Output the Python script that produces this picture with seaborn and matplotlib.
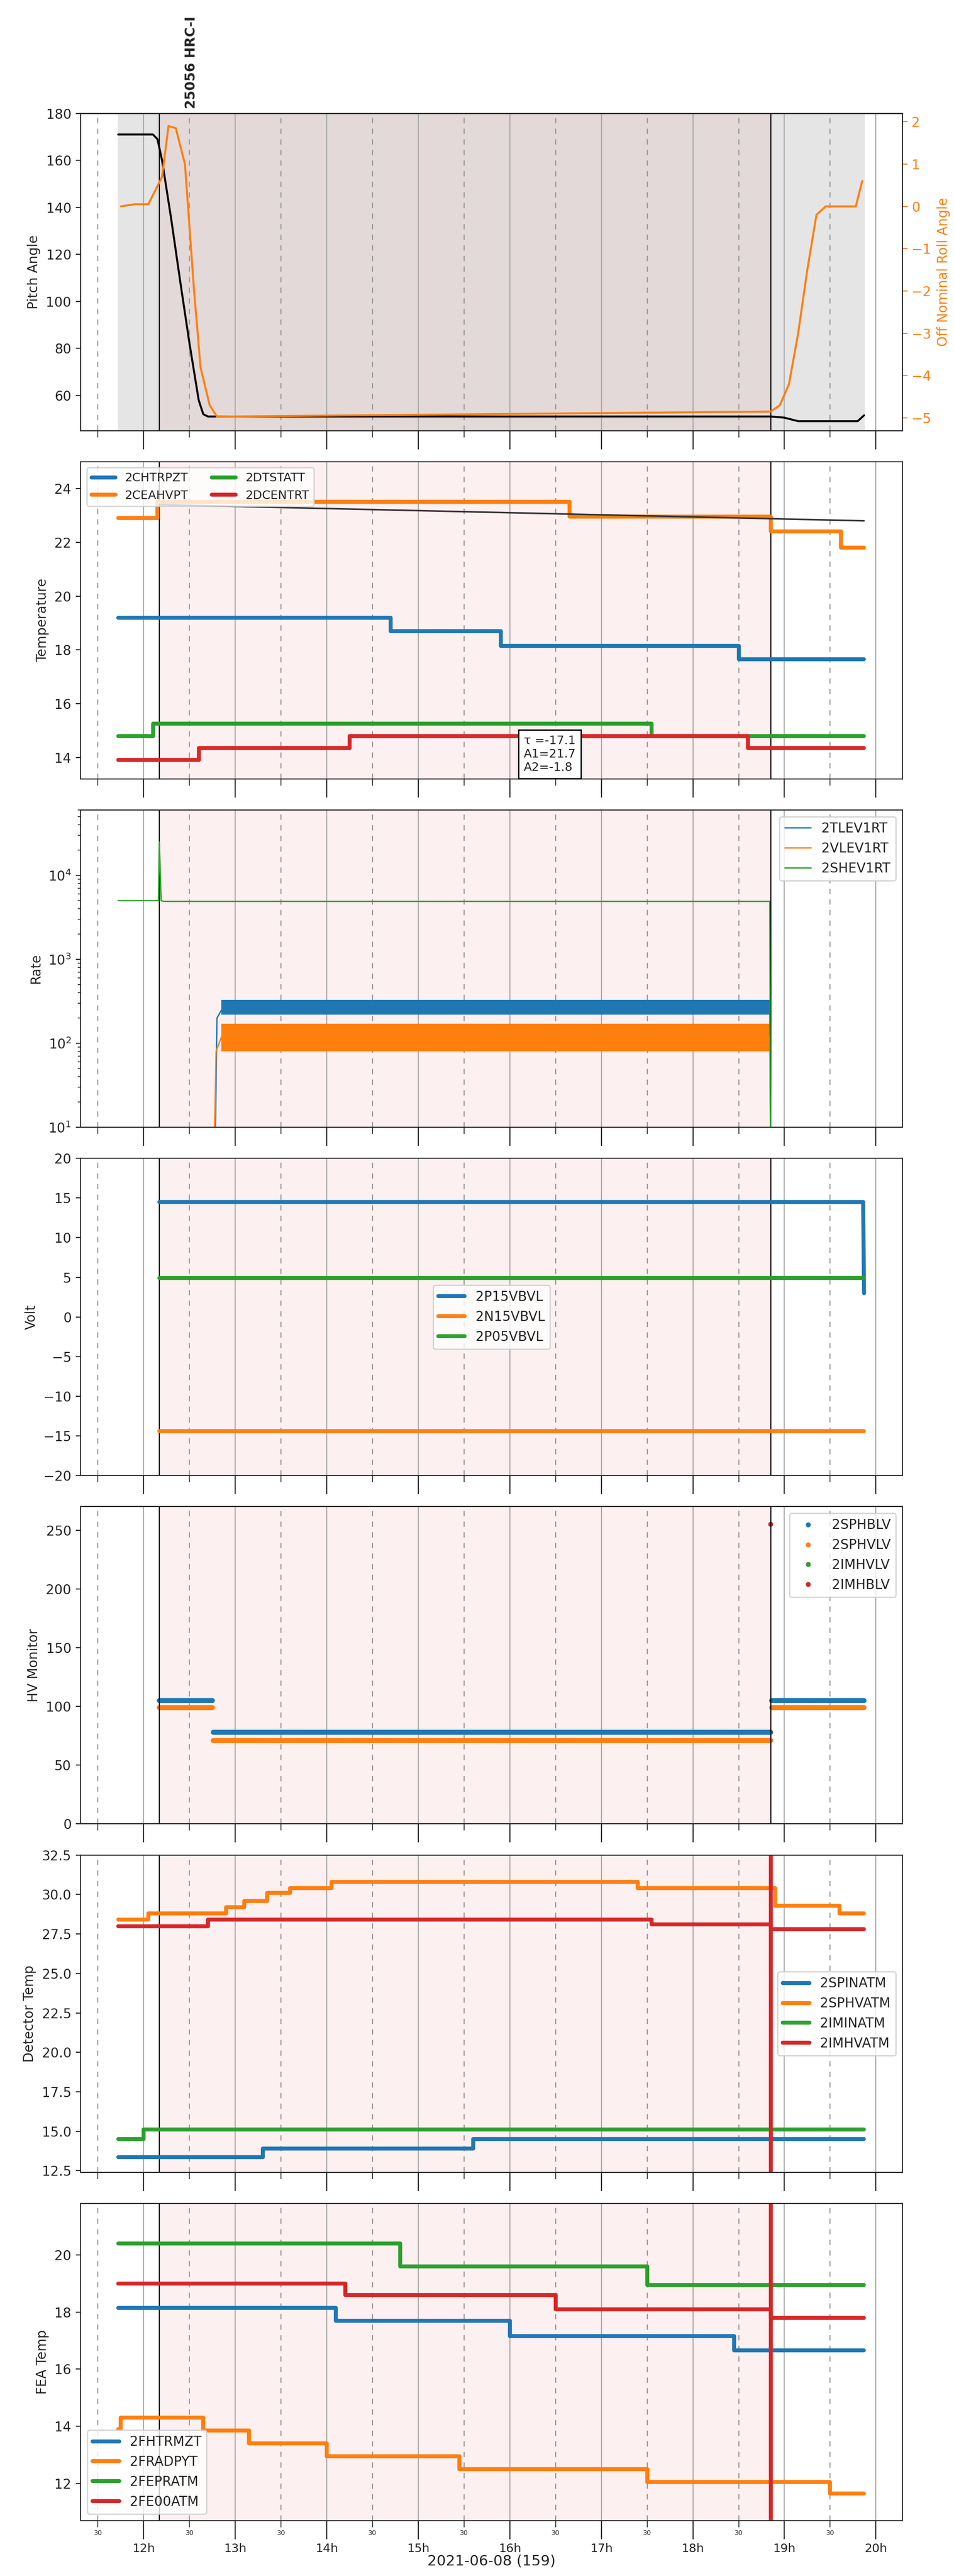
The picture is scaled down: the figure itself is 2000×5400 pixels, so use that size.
"""
HRC-I 관측 구간 텔레메트리 요약 플롯
자세/온도/계수율/전압/HV/검출기 온도/FEA 온도
"""
import numpy as np
import pandas as pd
import matplotlib
import matplotlib.pyplot as plt
import seaborn as sns
from matplotlib.ticker import MultipleLocator, FuncFormatter

sns.set_style('ticks')
matplotlib.rcParams['font.family'] = ['DejaVu Sans']
matplotlib.rcParams['axes.unicode_minus'] = True

# ============================================================
# Step 1: 데이터 (시간 단위: 2021-06-08 기준 시각, hour)
# ============================================================
T0, T1 = 11.72, 19.87          # 데이터 구간
OBS0, OBS1 = 12.17, 18.85      # 관측 구간

def steps(pts, end=T1):
    """(시작시각, 값) 목록 -> 계단형 DataFrame"""
    x = [p[0] for p in pts] + [end]
    y = [p[1] for p in pts] + [pts[-1][1]]
    return pd.DataFrame({'t': x, 'v': y})

pitch = pd.DataFrame({
    't': [11.72, 12.10, 12.15, 12.20, 12.30, 12.40, 12.50, 12.60, 12.65, 12.70, 18.85, 19.00, 19.15, 19.80, 19.87],
    'v': [171, 171, 169, 160, 135, 108, 82, 58, 52, 51, 51, 50.5, 49, 49, 51.5]})
roll = pd.DataFrame({
    't': [11.75, 11.90, 12.05, 12.20, 12.27, 12.35, 12.45, 12.50, 12.55, 12.62, 12.72, 12.80, 18.85, 18.95, 19.05,
          19.15, 19.25, 19.35, 19.45, 19.55, 19.78, 19.85],
    'v': [0.0, 0.05, 0.05, 0.7, 1.9, 1.85, 1.0, -0.5, -2.0, -3.8, -4.7, -4.97, -4.85, -4.7, -4.2,
          -3.0, -1.5, -0.2, 0.0, 0.0, 0.0, 0.6]})

temp = {
    '2CHTRPZT': steps([(T0, 19.2), (14.70, 18.7), (15.90, 18.15), (18.50, 17.65)]),
    '2CEAHVPT': steps([(T0, 22.9), (12.15, 23.5), (16.65, 22.95), (18.85, 22.4), (19.62, 21.8)]),
    '2DTSTATT': steps([(T0, 14.8), (12.10, 15.25), (17.55, 14.8)]),
    '2DCENTRT': steps([(T0, 13.9), (12.60, 14.35), (14.25, 14.8), (18.60, 14.35)]),
}
model = pd.DataFrame({'t': [12.17, 19.87], 'v': [23.4, 22.8]})

rate_green = pd.DataFrame({'t': [11.72, 12.16, 12.17, 12.19, 12.22, 18.84, 18.85],
                           'v': [5000, 5000, 25000, 5000, 4900, 4900, 5]})
rate_blue = pd.DataFrame({'t': [12.17, 12.18, 12.78, 12.80, 12.85, 18.84, 18.85],
                          'v': [5, 5, 5, 200, 250, 250, 5]})
rate_orange = pd.DataFrame({'t': [12.17, 12.18, 12.77, 12.79, 12.85, 18.84, 18.85],
                            'v': [5, 5, 5, 80, 120, 120, 5]})

volt = {
    '2P15VBVL': pd.DataFrame({'t': [12.17, 19.86, 19.87], 'v': [14.5, 14.5, 3.0]}),
    '2N15VBVL': pd.DataFrame({'t': [12.17, 19.87], 'v': [-14.4, -14.4]}),
    '2P05VBVL': pd.DataFrame({'t': [12.17, 19.87], 'v': [4.9, 4.9]}),
}

tt = np.arange(12.17, 19.87, 0.01)
seg1 = tt < 12.75
seg3 = tt > 18.85
hv = pd.DataFrame({'t': np.concatenate([tt, tt, [18.85]]),
                   'v': np.concatenate([np.where(seg1 | seg3, 105, 78), np.where(seg1 | seg3, 99, 71), [255]]),
                   'msid': ['2SPHBLV'] * len(tt) + ['2SPHVLV'] * len(tt) + ['2IMHBLV']})

det = {
    '2SPINATM': steps([(T0, 13.35), (13.30, 13.9), (15.60, 14.5)]),
    '2SPHVATM': steps([(T0, 28.4), (12.05, 28.8), (12.90, 29.2), (13.10, 29.6), (13.35, 30.1),
                       (13.60, 30.4), (14.05, 30.8), (17.40, 30.4), (18.90, 29.3), (19.60, 28.8)]),
    '2IMINATM': steps([(T0, 14.5), (12.00, 15.1)]),
    '2IMHVATM': steps([(T0, 28.0), (12.70, 28.4), (17.55, 28.1), (18.85, 27.8)]),
}

fea = {
    '2FHTRMZT': steps([(T0, 18.15), (14.10, 17.7), (16.00, 17.15), (18.45, 16.65)]),
    '2FRADPYT': steps([(T0, 13.9), (11.75, 14.3), (12.65, 13.85), (13.15, 13.4), (14.00, 12.95),
                       (15.45, 12.5), (17.50, 12.05), (19.50, 11.65)]),
    '2FEPRATM': steps([(T0, 20.4), (14.80, 19.6), (17.50, 18.95)]),
    '2FE00ATM': steps([(T0, 19.0), (14.20, 18.6), (16.50, 18.1), (18.85, 17.8)]),
}

# ============================================================
# Step 2: 시각화
# ============================================================
colors = sns.color_palette('tab10')
red_span = '#fdf0f0'

fig, axes = plt.subplots(7, 1, figsize=(10, 27), sharex=True)
fig.subplots_adjust(left=0.0845, right=0.946, top=0.956, bottom=0.0215, hspace=0.098)

for ax in axes:
    ax.set_xlim(11.31, 20.29)
    ax.xaxis.set_major_locator(MultipleLocator(1))
    ax.xaxis.set_minor_locator(MultipleLocator(0.5))
    ax.grid(True, which='major', axis='x', color='#aaaaaa', lw=0.8, zorder=1)
    ax.grid(True, which='minor', axis='x', color='#999999', lw=0.8, ls=(0, (5, 5)))
    ax.axvline(OBS0, color='black', lw=0.8)
    ax.axvline(OBS1, color='black', lw=0.8)
    ax.tick_params(axis='x', which='major', length=14)
    ax.tick_params(axis='x', which='minor', length=5)

# ── 그래프 1: 자세 ──────────────────────────────────────────
ax = axes[0]
ax.axvspan(T0, T1, color='#e5e5e5', zorder=0)
ax.axvspan(OBS0, OBS1, color='#e4d9d9', zorder=0)
sns.lineplot(data=pitch, x='t', y='v', color='black', lw=1.5, ax=ax)
ax.set_ylim(45, 180)
ax.set_ylabel('Pitch Angle')
ax2 = ax.twinx()
sns.lineplot(data=roll, x='t', y='v', color=colors[1], lw=1.5, ax=ax2)
ax2.set_ylim(-5.3, 2.2)
ax2.set_ylabel('Off Nominal Roll Angle', color=colors[1])
ax2.tick_params(axis='y', colors=colors[1])
ax.text(OBS0 + 0.35, 182, '25056 HRC-I', rotation=90, fontweight='bold', ha='center', va='bottom')

# ── 그래프 2: 온도 ──────────────────────────────────────────
ax = axes[1]
ax.axvspan(OBS0, OBS1, color=red_span, zorder=0)
for i, (name, d) in enumerate(temp.items()):
    sns.lineplot(data=d, x='t', y='v', drawstyle='steps-post', color=colors[i], lw=3, label=name, ax=ax)
sns.lineplot(data=model, x='t', y='v', color='#333333', lw=1.2, ax=ax)
ax.set_ylim(13.2, 25)
ax.set_ylabel('Temperature')
ax.legend(loc='upper left', ncol=2, fontsize=9)
ax.text(16.15, 13.5, 'τ =-17.1\nA1=21.7\nA2=-1.8', fontsize=9,
        bbox=dict(facecolor='white', edgecolor='black'))

# ── 그래프 3: 계수율 ────────────────────────────────────────
ax = axes[2]
ax.axvspan(OBS0, OBS1, color=red_span, zorder=0)
ax.fill_between([12.85, 18.84], 220, 330, color=colors[0], lw=0)
ax.fill_between([12.85, 18.84], 80, 170, color=colors[1], lw=0)
sns.lineplot(data=rate_blue, x='t', y='v', color=colors[0], lw=1, label='2TLEV1RT', ax=ax)
sns.lineplot(data=rate_orange, x='t', y='v', color=colors[1], lw=1, label='2VLEV1RT', ax=ax)
sns.lineplot(data=rate_green, x='t', y='v', color=colors[2], lw=1, label='2SHEV1RT', ax=ax)
ax.set_yscale('log')
ax.set_ylim(10, 6e4)
ax.set_ylabel('Rate')
ax.legend(loc='upper right')

# ── 그래프 4: 전압 ──────────────────────────────────────────
ax = axes[3]
ax.axvspan(OBS0, OBS1, color=red_span, zorder=0)
for i, (name, d) in enumerate(volt.items()):
    sns.lineplot(data=d, x='t', y='v', color=colors[i], lw=3, label=name, ax=ax)
ax.set_ylim(-20, 20)
ax.yaxis.set_major_locator(MultipleLocator(5))
ax.set_ylabel('Volt')
ax.legend(loc='center')

# ── 그래프 5: HV 모니터 ─────────────────────────────────────
ax = axes[4]
ax.axvspan(OBS0, OBS1, color=red_span, zorder=0)
sns.scatterplot(data=hv, x='t', y='v', hue='msid', hue_order=['2SPHBLV', '2SPHVLV', '2IMHVLV', '2IMHBLV'],
                palette=colors[:4], s=14, linewidth=0, ax=ax)
ax.set_ylim(0, 270)
ax.set_ylabel('HV Monitor')
ax.legend(loc='upper right', title=None)

# ── 그래프 6: 검출기 온도 ───────────────────────────────────
ax = axes[5]
ax.axvspan(OBS0, OBS1, color=red_span, zorder=0)
for i, (name, d) in enumerate(det.items()):
    sns.lineplot(data=d, x='t', y='v', drawstyle='steps-post', color=colors[i], lw=3, label=name, ax=ax)
ax.axvline(OBS1, color=colors[3], lw=3)
ax.set_ylim(12.4, 32.5)
ax.set_ylabel('Detector Temp')
ax.legend(loc='center right')

# ── 그래프 7: FEA 온도 ──────────────────────────────────────
ax = axes[6]
ax.axvspan(OBS0, OBS1, color=red_span, zorder=0)
for i, (name, d) in enumerate(fea.items()):
    sns.lineplot(data=d, x='t', y='v', drawstyle='steps-post', color=colors[i], lw=3, label=name, ax=ax)
ax.axvline(OBS1, color=colors[3], lw=3)
ax.set_ylim(10.7, 21.8)
ax.set_ylabel('FEA Temp')
ax.legend(loc='lower left')

for ax in axes:
    ax.set_xlabel('')
    ax.tick_params(axis='x', labelbottom=False, which='both')
axes[-1].tick_params(axis='x', which='both', labelbottom=True)
axes[-1].xaxis.set_major_formatter(FuncFormatter(lambda x, p: f'{int(round(x))}h'))
axes[-1].xaxis.set_minor_formatter(FuncFormatter(lambda x, p: '30'))
axes[-1].tick_params(axis='x', which='major', pad=3, labelsize=9)
axes[-1].tick_params(axis='x', which='minor', labelsize=5, pad=2)
axes[-1].set_xlabel('2021-06-08 (159)', fontsize=11, labelpad=0)

plt.savefig('out.png', dpi=200)
plt.close()
